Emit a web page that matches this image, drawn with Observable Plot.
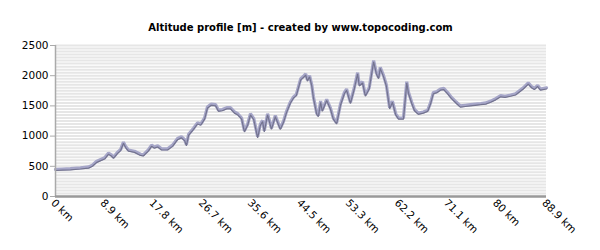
<!DOCTYPE html>
<html>
<head>
<meta charset="utf-8">
<script src="https://cdn.jsdelivr.net/npm/d3@7"></script>
<script src="https://cdn.jsdelivr.net/npm/@observablehq/plot@0.6"></script>
<style>
  html, body { margin: 0; padding: 0; background: #fff; }
  #chart { width: 600px; height: 250px; }
  svg { font-family: "DejaVu Sans", sans-serif; }
</style>
</head>
<body>
<div id="chart"></div>
<script>
const title = "Altitude profile [m] - created by www.topocoding.com";

// distance along route (km)
const distanceKm = [
  0, 1.27, 2.7, 4.5, 6.0, 6.7, 7.4, 8.1, 8.9, 9.6, 10.1, 10.5, 11.2, 11.8, 12.3, 12.7, 13.2, 14.3, 15.4, 15.9,
  16.8, 17.4, 17.9, 18.5, 19.2, 20.3, 21.2, 22.1, 22.8, 23.4, 23.7, 24.1, 25.0, 25.7, 26.3, 27.0, 27.5, 28.2, 29.0, 29.5,
  30.2, 31.0, 31.7, 32.4, 33.0, 33.7, 34.2, 34.8, 35.3, 35.9, 36.6, 37.1, 37.5, 37.8, 38.4, 39.1, 39.8, 40.7, 41.3, 41.8,
  42.5, 43.1, 43.6, 44.4, 44.9, 45.3, 45.6, 46.0, 46.4, 46.7, 47.3, 47.6, 48.0, 48.3, 49.1, 49.8, 50.3, 50.9, 51.6, 52.3,
  52.7, 53.4, 54.1, 54.7, 55.0, 55.6, 56.1, 56.8, 57.6, 58.1, 58.5, 58.8, 59.4, 59.9, 60.5, 61.0, 61.6, 62.1, 63.0, 63.6,
  63.9, 64.5, 65.0, 65.7, 66.6, 67.4, 67.9, 68.4, 69.1, 69.7, 70.3, 71.0, 71.7, 72.6, 73.3, 74.2, 75.1, 76.0, 77.0, 77.9,
  78.8, 79.7, 80.6, 81.4, 82.4, 83.3, 84.0, 84.7, 85.6, 86.2, 86.7, 87.3, 87.8, 88.9
];
// altitude (m)
const altitudeM = [
  450, 455, 460, 475, 490, 520, 580, 610, 640, 720, 690, 650, 730, 780, 900, 830, 770, 750, 700, 690,
  770, 850, 820, 840, 790, 790, 850, 960, 990, 940, 860, 1030, 1130, 1220, 1200, 1300, 1480, 1530, 1520, 1430,
  1440, 1470, 1470, 1400, 1370, 1300, 1090, 1200, 1370, 1290, 990, 1200, 1260, 1090, 1370, 1130, 1340, 1130, 1250, 1400,
  1560, 1650, 1690, 1950, 1990, 2030, 1930, 2000, 1850, 1650, 1380, 1340, 1580, 1430, 1610, 1460, 1300, 1220, 1530, 1720,
  1780, 1560, 1800, 2050, 1850, 1900, 1680, 1800, 2250, 2050, 1970, 2140, 2000, 1850, 1470, 1580, 1370, 1300, 1300, 1900,
  1730, 1560, 1440, 1380, 1400, 1430, 1550, 1720, 1740, 1780, 1790, 1720, 1640, 1560, 1500, 1510, 1520, 1530, 1540, 1550,
  1580, 1620, 1670, 1660, 1680, 1700, 1750, 1800, 1880, 1820, 1790, 1840, 1780, 1800
];

const xTicks = [0, 8.9, 17.8, 26.7, 35.6, 44.5, 53.3, 62.2, 71.1, 80, 88.9];
const xTickLabels = ["0 km", "8.9 km", "17.8 km", "26.7 km", "35.6 km", "44.5 km", "53.3 km", "62.2 km", "71.1 km", "80 km", "88.9 km"];
const yTicks = [0, 500, 1000, 1500, 2000, 2500];
const stripeLevels = d3.range(50, 2501, 50);

const profile = distanceKm.map((d, i) => ({km: d, alt: altitudeM[i]}));
const xLabelRows = xTicks.map((v, i) => ({v, label: xTickLabels[i]}));

const chart = Plot.plot({
  width: 600,
  height: 250,
  marginLeft: 55,
  marginRight: 54,
  marginTop: 45,
  marginBottom: 54,
  x: {domain: [0, 88.9], axis: null},
  y: {domain: [0, 2500], axis: null},
  style: {fontFamily: "DejaVu Sans, sans-serif", background: "#fff"},
  marks: [
    Plot.ruleY(stripeLevels, {stroke: "#e6e6e6", strokeWidth: 2}),
    Plot.line(profile, {x: "km", y: "alt", stroke: "#a6a6c8", strokeWidth: 3.2, strokeLinejoin: "miter"}),
    Plot.line(profile, {x: "km", y: "alt", stroke: "#73738f", strokeWidth: 1.2, dy: 1.2, strokeLinejoin: "miter"}),
    Plot.ruleX([0], {stroke: "#aaaaaa", strokeWidth: 1.5}),
    Plot.ruleY([0], {stroke: "#999999", strokeWidth: 2.5}),
    Plot.axisY({ticks: yTicks, tickFormat: d => String(d), tickSize: 5, tickPadding: 2, fontSize: 10.5, stroke: "#aaaaaa", label: null, color: "#000"}),
    Plot.text(xLabelRows, {x: "v", frameAnchor: "bottom", text: "label", rotate: 45, textAnchor: "start", dx: -5, dy: 7, fontSize: 10.5, fill: "#000"}),
    Plot.text([title], {frameAnchor: "top-left", dx: 245, dy: -22, textAnchor: "middle", text: d => d, fontWeight: "bold", fontSize: 10, fill: "#000"})
  ]
});
document.getElementById("chart").appendChild(chart);
</script>
</body>
</html>
